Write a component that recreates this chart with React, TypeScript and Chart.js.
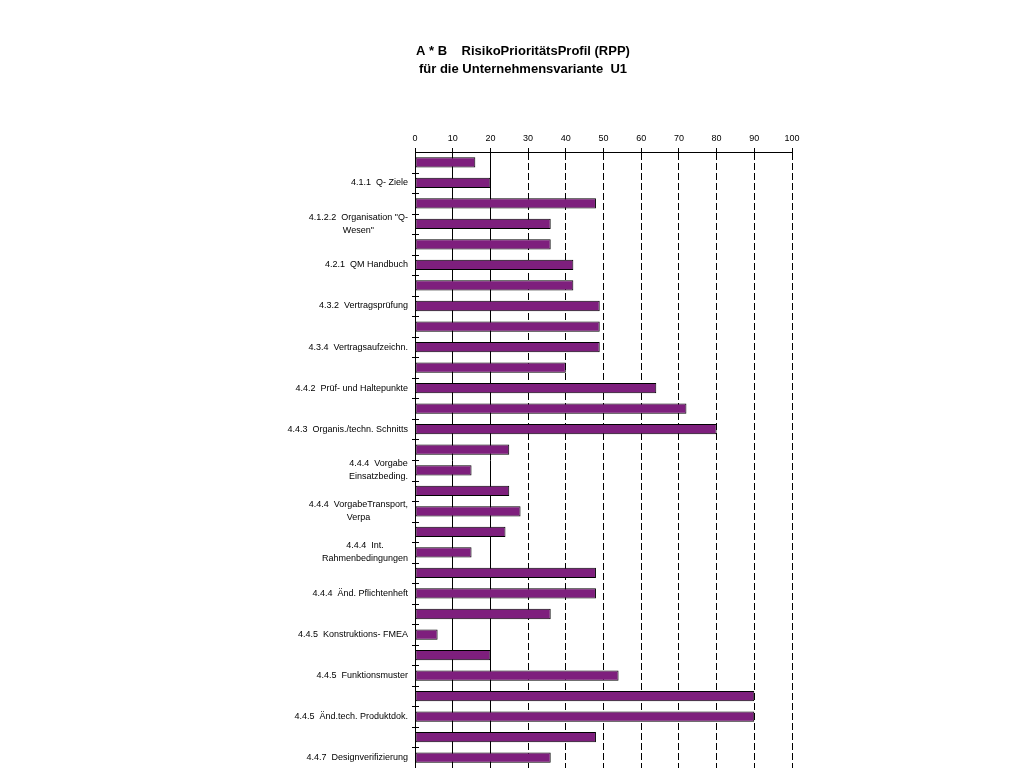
import React, { useEffect, useRef } from 'react';
import { Chart, registerables } from 'chart.js';

Chart.register(...registerables);

const TITLE_LINES = ['A * B    RisikoPrioritätsProfil (RPP)', 'für die Unternehmensvariante  U1'];

const CATEGORY_LABELS: (string | string[])[] = [
  '', '4.1.1  Q- Ziele',
  '', ['4.1.2.2  Organisation "Q-', 'Wesen"'],
  '', '4.2.1  QM Handbuch',
  '', '4.3.2  Vertragsprüfung',
  '', '4.3.4  Vertragsaufzeichn.',
  '', '4.4.2  Prüf- und Haltepunkte',
  '', '4.4.3  Organis./techn. Schnitts',
  '', ['4.4.4  Vorgabe', 'Einsatzbeding.'],
  '', ['4.4.4  VorgabeTransport,', 'Verpa'],
  '', ['4.4.4  Int.', 'Rahmenbedingungen'],
  '', '4.4.4  Änd. Pflichtenheft',
  '', '4.4.5  Konstruktions- FMEA',
  '', '4.4.5  Funktionsmuster',
  '', '4.4.5  Änd.tech. Produktdok.',
  '', '4.4.7  Designverifizierung',
];

const RPP_VALUES = [
  16, 20, 48, 36, 36, 42, 42, 49, 49, 49,
  40, 64, 72, 80, 25, 15, 25, 28, 24, 15,
  48, 48, 36, 6, 20, 54, 90, 90, 48, 36,
];

const X_MIN = 0;
const X_MAX = 100;
const X_STEP = 10;
const SOLID_GRID_VALUES = [10, 20];

const FONT = '"Liberation Sans", Arial, sans-serif';

const yLabelPlugin = {
  id: 'yLabelPlugin',
  afterDraw(chart: any) {
    const ctx = chart.ctx;
    const y = chart.scales.y;
    const area = chart.chartArea;
    ctx.save();
    ctx.font = `9px ${FONT}`;
    ctx.fillStyle = '#000';
    ctx.textBaseline = 'middle';
    ctx.textAlign = 'center';
    const right = area.left - 7;
    CATEGORY_LABELS.forEach((lab, i) => {
      const lines = Array.isArray(lab) ? lab : [lab];
      if (!lines.join('')) return;
      const w = Math.max(...lines.map((l) => ctx.measureText(l).width));
      const cx = right - w / 2;
      const cy = y.getPixelForValue(i);
      lines.forEach((l, j) => {
        ctx.fillText(l, cx, cy + (j - (lines.length - 1) / 2) * 13);
      });
    });
    // category boundary tick marks crossing the value axis line
    const step = y.getPixelForValue(1) - y.getPixelForValue(0);
    ctx.strokeStyle = '#000';
    ctx.lineWidth = 1;
    ctx.beginPath();
    for (let i = 1; i <= CATEGORY_LABELS.length; i++) {
      const py = Math.round(y.getPixelForValue(i) - step / 2) + 0.5;
      ctx.moveTo(area.left - 3, py);
      ctx.lineTo(area.left + 4, py);
    }
    ctx.stroke();
    ctx.restore();
  },
};

export default function App() {
  const canvasRef = useRef<HTMLCanvasElement | null>(null);

  useEffect(() => {
    if (!canvasRef.current) return;
    Chart.defaults.color = '#000';
    Chart.defaults.font.family = FONT;
    const chart = new Chart(canvasRef.current, {
      type: 'bar',
      data: {
        labels: CATEGORY_LABELS as any,
        datasets: [
          {
            data: RPP_VALUES,
            backgroundColor: '#7e1f7d',
            borderColor: '#000',
            borderWidth: 1,
            borderSkipped: false,
            barPercentage: 0.5,
            categoryPercentage: 1.0,
          },
        ],
      },
      options: {
        indexAxis: 'y',
        responsive: false,
        animation: false,
        layout: { padding: { left: 254, right: 232, top: 0, bottom: 0 } },
        plugins: {
          legend: { display: false },
          tooltip: { enabled: false },
          title: {
            display: true,
            text: TITLE_LINES,
            color: '#000',
            font: { size: 13, weight: 'bold', family: FONT, lineHeight: 18 / 13 },
            padding: { top: 42, bottom: 22 },
          },
        },
        scales: {
          x: {
            position: 'top',
            min: X_MIN,
            max: X_MAX,
            ticks: {
              stepSize: X_STEP,
              color: '#000',
              font: { size: 9, family: FONT },
              padding: 4,
              maxRotation: 0,
            },
            grid: {
              color: '#000',
              lineWidth: 1,
              drawTicks: true,
              tickLength: 4,
              tickColor: '#000',
            },
            border: {
              display: true,
              color: '#000',
              width: 1,
              dash: (ctx: any) =>
                ctx.tick && SOLID_GRID_VALUES.includes(ctx.tick.value) ? [] : [7, 3],
            },
            afterFit: (scale: any) => {
              scale.height = 52;
            },
          },
          y: {
            ticks: { display: false },
            grid: { display: false },
            border: { display: true, color: '#000', width: 1 },
            afterFit: (scale: any) => {
              scale.width = 161;
            },
          },
        },
      },
      plugins: [yLabelPlugin],
    } as any);
    return () => chart.destroy();
  }, []);

  return (
    <div style={{ position: 'absolute', left: 0, top: 0, width: 1024, height: 768 }}>
      <canvas ref={canvasRef} width={1024} height={768} />
    </div>
  );
}
